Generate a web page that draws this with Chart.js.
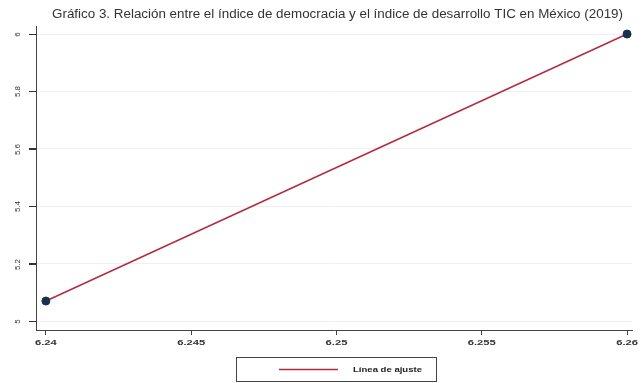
<!DOCTYPE html>
<html><head><meta charset="utf-8">
<script src="https://cdn.jsdelivr.net/npm/chart.js@4/dist/chart.umd.min.js"></script>
<style>html,body{margin:0;padding:0;background:#fff}#wrap{width:643px;height:383px}</style>
</head><body><div id="wrap"><canvas id="c" width="643" height="383"></canvas></div>
<script>
const titleText = "Gráfico 3. Relación entre el índice de democracia y el índice de desarrollo TIC en México (2019)";
const democracyIndex = [6.24, 6.26];
const ictIndex = [5.07, 6.00];
const fitX = [6.24, 6.26];
const fitY = [5.07, 6.00];
const xTicks = [6.24, 6.245, 6.25, 6.255, 6.26];
const yTicks = [5, 5.2, 5.4, 5.6, 5.8, 6];
const legendLabel = "Línea de ajuste";

const FONT = "'Liberation Sans', Arial, sans-serif";

function stretchedText(ctx, text, cx, cy, sx, align) {
  ctx.save();
  ctx.translate(cx, cy);
  ctx.scale(sx, 1);
  ctx.textAlign = align;
  ctx.textBaseline = 'middle';
  ctx.fillText(text, 0, 0);
  ctx.restore();
}

const extras = {
  id: 'extras',
  afterDraw(chart) {
    const ctx = chart.ctx;
    const ys = chart.scales.y;
    const xs = chart.scales.x;
    const left = chart.chartArea.left;
    ctx.save();
    ctx.setLineDash([]);
    // y tick marks + rotated labels
    ctx.fillStyle = '#333';
    ctx.font = '8px ' + FONT;
    yTicks.forEach(v => {
      const py = Math.round(ys.getPixelForValue(v));
      ctx.fillStyle = '#333';
      ctx.fillRect(left - 7, py, 7, 1);
      ctx.save();
      ctx.translate(18, py + 0.5);
      ctx.rotate(-Math.PI / 2);
      ctx.textAlign = 'center';
      ctx.textBaseline = 'middle';
      ctx.fillText(String(v), 0, 0);
      ctx.restore();
    });
    // x tick labels (stretched)
    ctx.font = 'bold 7.5px ' + FONT;
    ctx.fillStyle = '#333';
    const sxX = 28 / ctx.measureText('6.245').width;
    xTicks.forEach(v => {
      const px = xs.getPixelForValue(v);
      stretchedText(ctx, String(v), px, 343, sxX, 'center');
    });
    // title
    ctx.font = '12px ' + FONT;
    ctx.fillStyle = '#333';
    const sxT = 571 / ctx.measureText(titleText).width;
    stretchedText(ctx, titleText, 337.5, 15, sxT, 'center');
    // legend
    const bx = 236.5, by = 357.5, bw = 200, bh = 24;
    ctx.strokeStyle = '#444';
    ctx.lineWidth = 1;
    ctx.strokeRect(bx, by, bw, bh);
    ctx.strokeStyle = '#b32b40';
    ctx.lineWidth = 1.5;
    ctx.beginPath();
    ctx.moveTo(279, by + bh / 2);
    ctx.lineTo(338, by + bh / 2);
    ctx.stroke();
    ctx.fillStyle = '#222';
    ctx.font = 'bold 7.5px ' + FONT;
    const sxL = 69 / ctx.measureText(legendLabel).width;
    stretchedText(ctx, legendLabel, 353, by + bh / 2, sxL, 'left');
    ctx.restore();
  }
};

new Chart(document.getElementById('c'), {
  type: 'scatter',
  data: {
    datasets: [
      {
        label: legendLabel,
        type: 'line',
        data: fitX.map((x, i) => ({x, y: fitY[i]})),
        borderColor: '#b32b40',
        borderWidth: 1.5,
        pointRadius: 0,
        fill: false,
        order: 2
      },
      {
        label: 'Observado',
        data: democracyIndex.map((x, i) => ({x, y: ictIndex[i]})),
        backgroundColor: '#1a3050',
        borderColor: '#1a3050',
        pointRadius: 4,
        order: 1
      }
    ]
  },
  options: {
    responsive: false,
    animation: false,
    devicePixelRatio: 1,
    layout: { padding: { top: 26, right: 11, left: 0, bottom: 0 } },
    plugins: { legend: { display: false }, title: { display: false }, tooltip: { enabled: false } },
    scales: {
      x: {
        type: 'linear',
        min: 6.23966,
        max: 6.26017,
        afterBuildTicks: s => { s.ticks = xTicks.map(v => ({value: v})); },
        afterFit: s => { s.height = 53; },
        ticks: { display: false },
        grid: { display: true, drawOnChartArea: false, drawTicks: true, tickLength: 5, tickColor: '#444' },
        border: { display: true, color: '#444', width: 1 }
      },
      y: {
        type: 'linear',
        min: 4.969,
        max: 6.028,
        afterBuildTicks: s => { s.ticks = yTicks.map(v => ({value: v})); },
        afterFit: s => { s.width = 36; },
        ticks: { display: true, color: 'rgba(0,0,0,0)', font: { size: 1 } },
        grid: { display: true, color: '#eef1f4', lineWidth: 1, drawTicks: true, tickLength: 7, tickColor: '#333' },
        border: { display: true, color: '#444', width: 1 }
      }
    }
  },
  plugins: [extras]
});
</script>
</body></html>
